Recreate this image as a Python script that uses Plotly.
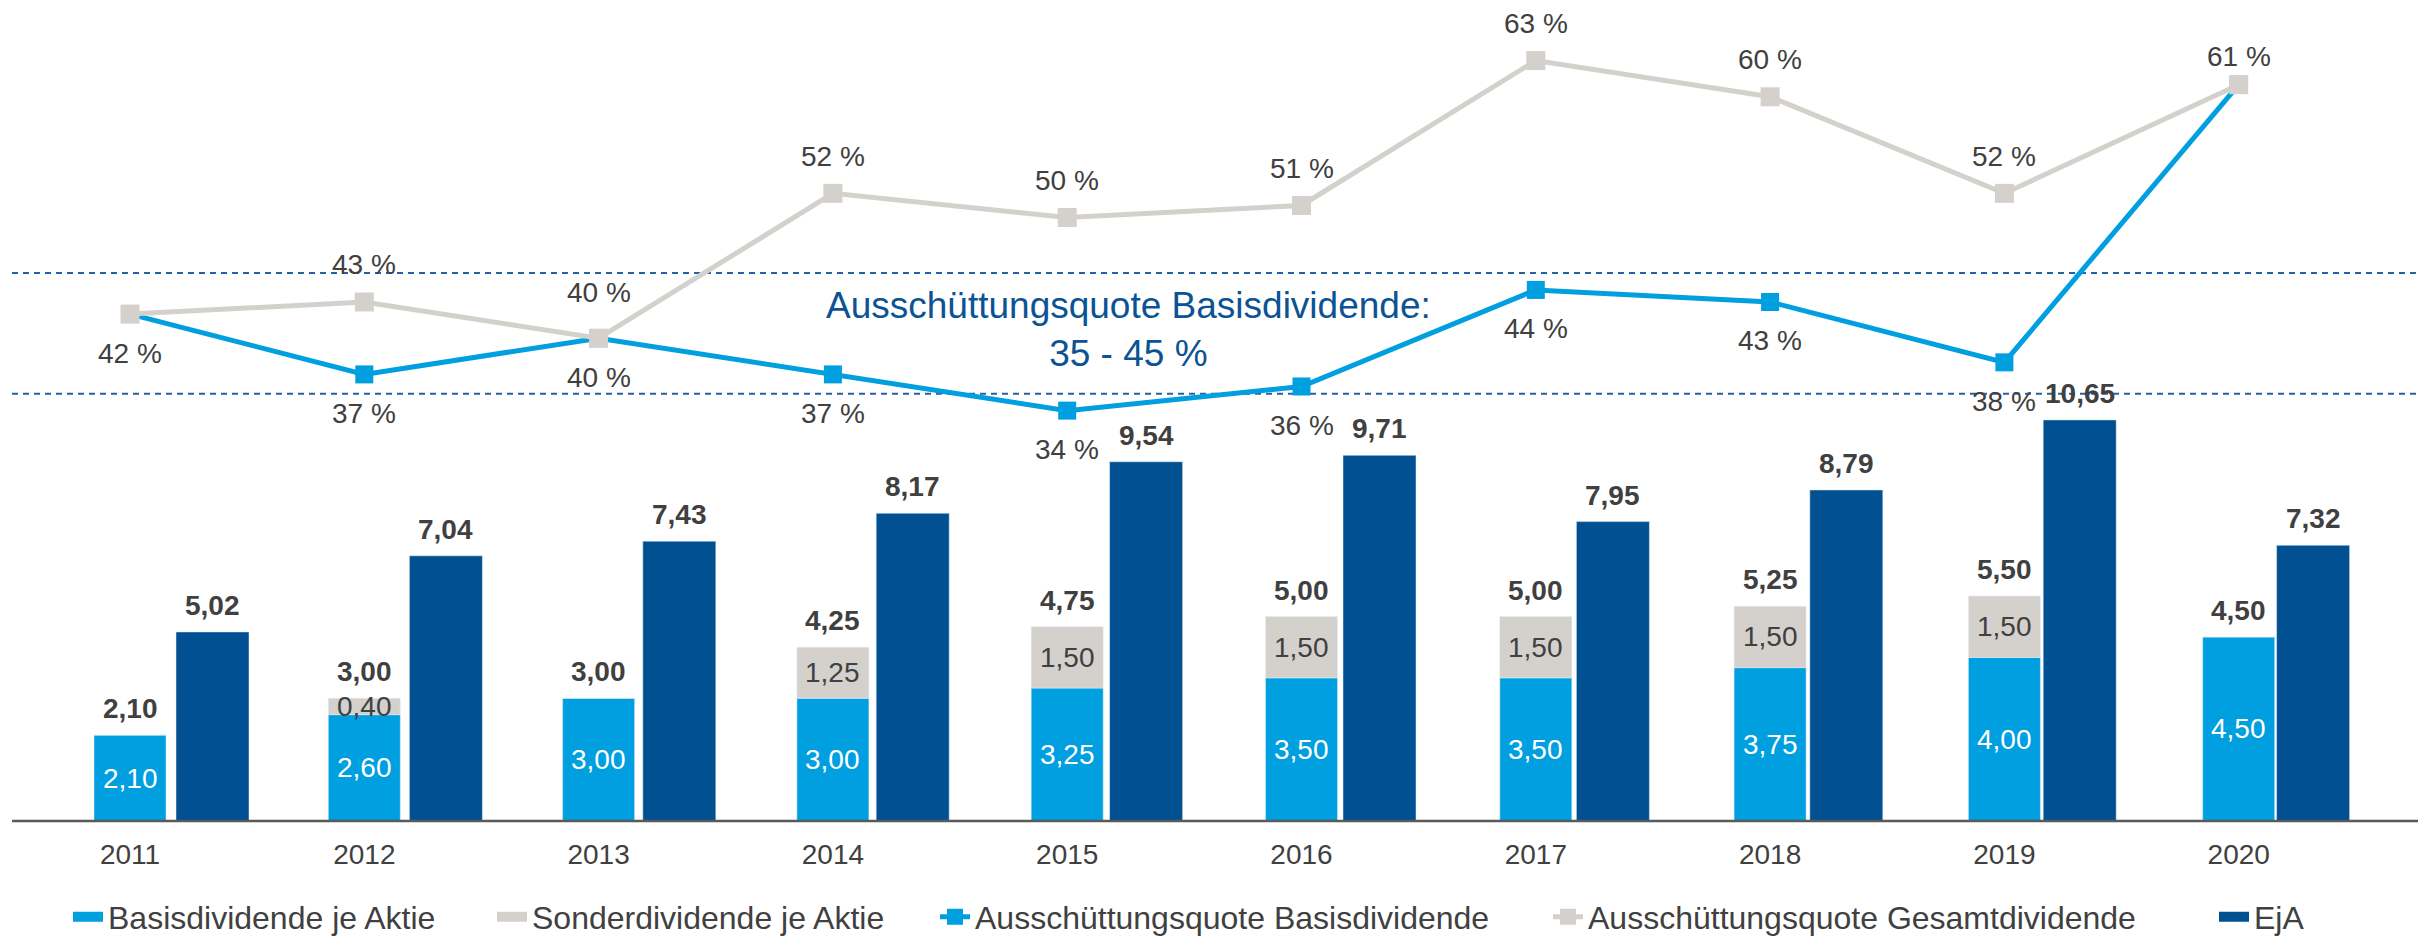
import plotly.graph_objects as go

years = ["2011", "2012", "2013", "2014", "2015", "2016", "2017", "2018", "2019", "2020"]
basis = [2.10, 2.60, 3.00, 3.00, 3.25, 3.50, 3.50, 3.75, 4.00, 4.50]
sonder = [0.00, 0.40, 0.00, 1.25, 1.50, 1.50, 1.50, 1.50, 1.50, 0.00]
eja = [5.02, 7.04, 7.43, 8.17, 9.54, 9.71, 7.95, 8.79, 10.65, 7.32]
quote_basis = [42, 37, 40, 37, 34, 36, 44, 43, 38, 61]
quote_gesamt = [42, 43, 40, 52, 50, 51, 63, 60, 52, 61]
band = [35.4, 45.4]

C_LIGHT = "#009FE0"
C_GREY = "#D4D1CC"
C_DARK = "#005092"
C_TEXT = "#404040"
C_NOTE = "#0B5394"
C_DASH = "#2462A6"
FONT = "Liberation Sans, Arial, sans-serif"

W, H = 2418, 936
ML, MR, MT, MB = 0, 0, 10, 115
PW = W - ML - MR
PH = H - MT - MB

# pixel geometry
cat0, cat_step = 130.0, 234.3
eja0, eja_step = 212.5, 233.4
px_div, px_eja, px_pct = 40.9, 37.66, 12.07

idx = list(range(len(years)))

def fmt(v):
    return f"{v:.2f}".replace(".", ",")

fig = go.Figure()

fig.add_trace(go.Bar(
    x=idx, y=basis, name="Basisdividende je Aktie", marker_color=C_LIGHT,
    width=72 / cat_step, xaxis="x", yaxis="y", showlegend=False, hoverinfo="skip"))
fig.add_trace(go.Bar(
    x=idx, y=sonder, base=basis, name="Sonderdividende je Aktie", marker_color=C_GREY,
    width=72 / cat_step, xaxis="x", yaxis="y", showlegend=False, hoverinfo="skip"))
fig.add_trace(go.Bar(
    x=idx, y=eja, name="EjA", marker_color=C_DARK,
    width=73 / eja_step, xaxis="x2", yaxis="y3", showlegend=False, hoverinfo="skip"))
fig.add_trace(go.Scatter(
    x=idx, y=quote_basis, name="Ausschüttungsquote Basisdividende", mode="lines+markers",
    line=dict(color=C_LIGHT, width=5), marker=dict(symbol="square", size=18, color=C_LIGHT),
    xaxis="x", yaxis="y2", legend="legend3", hoverinfo="skip"))
fig.add_trace(go.Scatter(
    x=idx, y=quote_gesamt, name="Ausschüttungsquote Gesamtdividende", mode="lines+markers",
    line=dict(color=C_GREY, width=5), marker=dict(symbol="square", size=19, color=C_GREY),
    xaxis="x", yaxis="y2", legend="legend4", hoverinfo="skip"))

# legend-only entries drawn as wide swatches, like the reference
for name, col, leg in [("Basisdividende je Aktie", C_LIGHT, "legend"),
                       ("Sonderdividende je Aktie", C_GREY, "legend2"),
                       ("EjA", C_DARK, "legend5")]:
    fig.add_trace(go.Scatter(x=[None], y=[None], mode="lines", name=name,
                             line=dict(color=col, width=12), legend=leg, hoverinfo="skip"))

ann = []
lab_font = dict(family=FONT, size=28, color=C_TEXT)
for i in idx:
    total = basis[i] + sonder[i]
    ann.append(dict(x=i, y=basis[i] / 2, xref="x", yref="y", text=fmt(basis[i]),
                    showarrow=False, font=dict(family=FONT, size=28, color="white")))
    if sonder[i] > 0:
        ann.append(dict(x=i, y=basis[i] + sonder[i] / 2, xref="x", yref="y", text=fmt(sonder[i]),
                        showarrow=False, font=lab_font))
    ann.append(dict(x=i, y=total, xref="x", yref="y", text="<b>" + fmt(total) + "</b>",
                    showarrow=False, yanchor="bottom", yshift=9, font=lab_font))
    ann.append(dict(x=i, y=eja[i], xref="x2", yref="y3", text="<b>" + fmt(eja[i]) + "</b>",
                    showarrow=False, yanchor="bottom", yshift=9, font=lab_font))

above_shift = {2: 46, 9: 28}
for i in idx:
    if i != len(idx) - 1:
        ann.append(dict(x=i, y=quote_basis[i], xref="x", yref="y2", text=f"{quote_basis[i]} %",
                        showarrow=False, yshift=-39, font=lab_font))
    if i != 0:
        ann.append(dict(x=i, y=quote_gesamt[i], xref="x", yref="y2", text=f"{quote_gesamt[i]} %",
                        showarrow=False, yshift=above_shift.get(i, 37), font=lab_font))

ann.append(dict(x=1128 / W, y=(PH - (329 - MT)) / PH, xref="paper", yref="paper",
                text="Ausschüttungsquote Basisdividende:<br>35 - 45 %", showarrow=False,
                align="center", font=dict(family=FONT, size=37, color=C_NOTE)))

shapes = []
for b in band:
    shapes.append(dict(type="line", xref="paper", yref="y2", x0=12 / W, x1=1, y0=b, y1=b,
                       line=dict(color=C_DASH, width=2, dash="6px,5px"), layer="below"))
shapes.append(dict(type="line", xref="paper", yref="paper", x0=12 / W, x1=1, y0=0, y1=0,
                   line=dict(color="#5a5a5a", width=2.5), layer="above"))

leg_text_px = [108, 532, 975, 1588, 2254]
leg_font = dict(family=FONT, size=32, color=C_TEXT)
leg_y = -(917 - (MT + PH)) / PH
legends = {}
for k, tx in enumerate(leg_text_px):
    key = "legend" if k == 0 else f"legend{k + 1}"
    legends[key] = dict(x=(tx - 40 - ML) / PW, y=leg_y, xanchor="left", yanchor="middle",
                        orientation="h", font=leg_font, bgcolor="rgba(0,0,0,0)",
                        borderwidth=0, itemclick=False, itemdoubleclick=False)

fig.update_layout(
    width=W, height=H,
    margin=dict(l=ML, r=MR, t=MT, b=MB, autoexpand=False),
    paper_bgcolor="white", plot_bgcolor="white",
    barmode="overlay",
    font=dict(family=FONT, color=C_TEXT),
    xaxis=dict(range=[-cat0 / cat_step, (PW - cat0) / cat_step], tickvals=idx, ticktext=years,
               tickfont=dict(family=FONT, size=28, color=C_TEXT), showgrid=False, zeroline=False,
               showline=False, ticks="outside", ticklen=8, tickcolor="rgba(0,0,0,0)", fixedrange=True),
    xaxis2=dict(range=[-eja0 / eja_step, (PW - eja0) / eja_step], overlaying="x", visible=False,
                fixedrange=True),
    yaxis=dict(range=[0, PH / px_div], visible=False, fixedrange=True),
    yaxis2=dict(range=[0, PH / px_pct], overlaying="y", visible=False, fixedrange=True),
    yaxis3=dict(range=[0, PH / px_eja], overlaying="y", anchor="x2", visible=False, fixedrange=True),
    annotations=ann,
    shapes=shapes,
    showlegend=True,
    **legends,
)

fig.write_html(
    "out.html",
    config={"displayModeBar": False},
    post_script="document.body.style.margin='0px';document.body.style.overflow='hidden';",
)
